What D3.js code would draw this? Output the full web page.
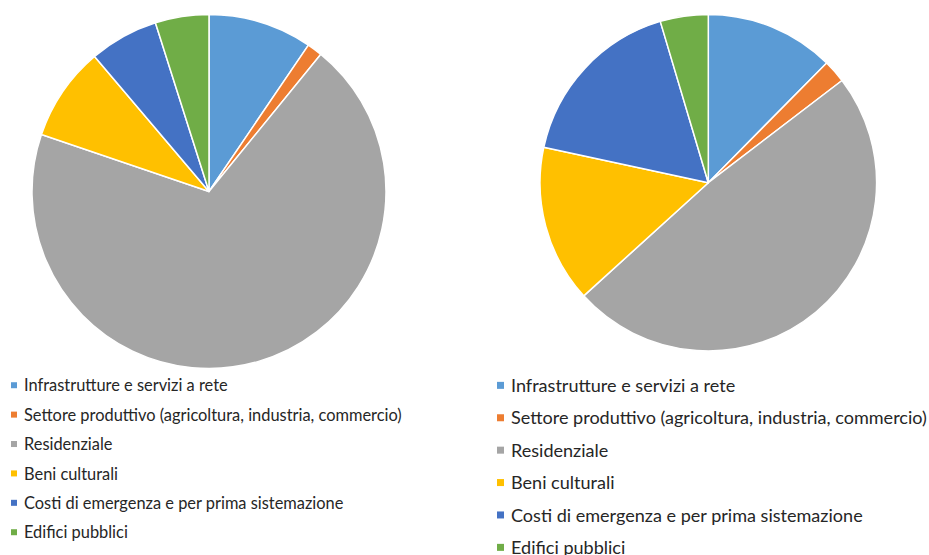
<!DOCTYPE html>
<html>
<head>
<meta charset="utf-8">
<script src="https://cdn.jsdelivr.net/npm/d3@7"></script>
<style>
html,body{margin:0;padding:0;background:#fff;overflow:hidden;}
svg{display:block;}
</style>
</head>
<body>
<svg id="chart" width="929" height="555"></svg>
<script>
const categories = [
  "Infrastrutture e servizi a rete",
  "Settore produttivo (agricoltura, industria, commercio)",
  "Residenziale",
  "Beni culturali",
  "Costi di emergenza e per prima sistemazione",
  "Edifici pubblici"
];
const colors = ["#5B9BD5", "#ED7D31", "#A5A5A5", "#FFC000", "#4472C4", "#70AD47"];
const leftValues = [9.5, 1.4, 69.4, 8.6, 6.3, 4.9];
const rightValues = [12.4, 2.2, 48.6, 15.1, 17.0, 4.6];

const svg = d3.select("#chart");
const color = d3.scaleOrdinal().domain(categories).range(colors);
const pie = d3.pie().sort(null).value(d => d.v);

function drawPie(values, cx, cy, r) {
  const data = categories.map((c, i) => ({c, v: values[i]}));
  const arc = d3.arc().innerRadius(0).outerRadius(r);
  const g = svg.append("g").attr("transform", `translate(${cx},${cy})`);
  g.selectAll("path").data(pie(data)).join("path")
    .attr("d", arc)
    .attr("fill", d => color(d.data.c))
    .attr("stroke", "#fff")
    .attr("stroke-width", 1.5)
    .attr("stroke-linejoin", "round");
}

function drawLegend(x, y0, step, sq, longestWidth) {
  const g = svg.append("g");
  const rows = g.selectAll("g").data(categories).join("g")
    .attr("transform", (d, i) => `translate(${x},${y0 + i * step})`);
  const texts = rows.append("text")
    .attr("x", sq + 7)
    .attr("y", 0)
    .attr("font-family", "Lato, 'Open Sans', sans-serif")
    .attr("font-size", 15)
    .attr("fill", "#262626")
    .text(d => d);
  // fit font size so the longest label matches reference width
  const w = texts.filter((d, i) => i === 1).node().getComputedTextLength();
  const fs = 15 * longestWidth / w;
  texts.attr("font-size", fs);
  rows.append("rect")
    .attr("x", 0)
    .attr("y", -fs * 0.34 - sq / 2 - 0.5)
    .attr("width", sq)
    .attr("height", sq)
    .attr("fill", d => color(d));
}

drawPie(leftValues, 209, 191.5, 177);
drawPie(rightValues, 708.3, 182.7, 168.3);

drawLegend(11, 391.3, 29.4, 6, 378);
drawLegend(497, 392, 32.4, 7, 416);
</script>
</body>
</html>
